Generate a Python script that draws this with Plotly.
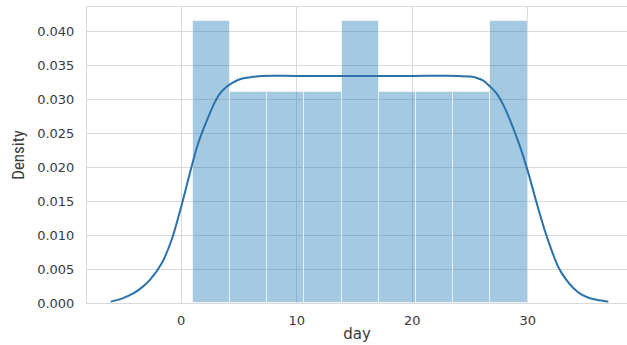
import plotly.graph_objects as go

# Histogram (density) of "day"
bin_edges = [1.0, 4.222, 7.444, 10.667, 13.889, 17.111, 20.333, 23.556, 26.778, 30.0]
bin_density = [0.0414, 0.0310, 0.0310, 0.0310, 0.0414, 0.0310, 0.0310, 0.0310, 0.0414]

# KDE curve
kde_x = [-6.11, -5.2, -4.16, -3.4, -2.71, -1.70, -0.83, 0.0, 0.75, 1.47, 2.48, 2.9,
         3.35, 3.85, 4.36, 5.08, 6.0, 7.0, 10.0, 15.0, 20.0, 24.0, 25.0, 25.6,
         26.16, 26.7, 27.32, 27.9, 28.47, 29.34, 30.06, 30.78, 31.65, 32.65, 33.3,
         33.95, 34.6, 35.39, 36.2, 36.98]
kde_y = [0.0002, 0.0006, 0.0014, 0.0023, 0.0034, 0.0058, 0.0093, 0.0142, 0.0191,
         0.0235, 0.0279, 0.0295, 0.0308, 0.0317, 0.0323, 0.0329, 0.0332, 0.0334,
         0.0334, 0.0334, 0.0334, 0.0334, 0.0333, 0.0331, 0.0327, 0.0319, 0.0308,
         0.0291, 0.0269, 0.0230, 0.0191, 0.0147, 0.0098, 0.0053, 0.0035, 0.0022,
         0.0013, 0.0007, 0.0004, 0.0002]

x_ticks = [0, 10, 20, 30]
y_ticks = [0.000, 0.005, 0.010, 0.015, 0.020, 0.025, 0.030, 0.035, 0.040]

centers = [(a + b) / 2 for a, b in zip(bin_edges[:-1], bin_edges[1:])]
widths = [b - a for a, b in zip(bin_edges[:-1], bin_edges[1:])]

fig = go.Figure()
fig.add_trace(go.Bar(
    x=centers, y=bin_density, width=widths,
    marker=dict(color="rgba(31,119,180,0.4)",
                line=dict(color="rgba(255,255,255,0.55)", width=1)),
    showlegend=False, hoverinfo="skip",
))
fig.add_trace(go.Scatter(
    x=kde_x, y=kde_y, mode="lines",
    line=dict(color="#2b72ab", width=2, shape="spline", smoothing=1.0),
    showlegend=False, hoverinfo="skip",
))

grid = "#d9d9d9"
fig.update_layout(
    width=627, height=345,
    margin=dict(l=87, r=0, t=7, b=42),
    paper_bgcolor="white", plot_bgcolor="white",
    bargap=0,
    font=dict(family="DejaVu Sans", size=13, color="#3a3a3a"),
    xaxis=dict(
        range=[-8.16, 38.6], tickvals=x_ticks, ticktext=[str(v) for v in x_ticks],
        showgrid=True, gridcolor=grid, gridwidth=1, zeroline=False,
        showline=True, linecolor=grid, linewidth=1, mirror=True,
        ticks="", ticklabelstandoff=5,
        title=dict(text="day", font=dict(family="DejaVu Sans", size=15, color="#3a3a3a"),
                   standoff=1),
    ),
    yaxis=dict(
        range=[0, 0.04353], tickvals=y_ticks,
        ticktext=[f"{v:.3f}" for v in y_ticks],
        showgrid=True, gridcolor=grid, gridwidth=1, zeroline=False,
        showline=True, linecolor=grid, linewidth=1, mirror=False,
        ticks="", ticklabelstandoff=9,
        title=dict(text="Density",
                   font=dict(family="Liberation Sans Narrow, Roboto Condensed, Roboto, sans-serif",
                             size=17, color="#3a3a3a"),
                   standoff=8),
    ),
)

fig.write_html("out.html")
